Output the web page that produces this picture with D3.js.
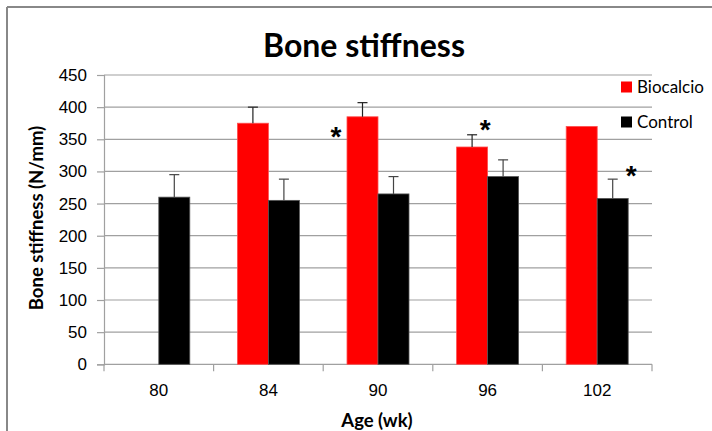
<!DOCTYPE html>
<html><head><meta charset="utf-8">
<script src="https://cdn.jsdelivr.net/npm/d3@7"></script>
<style>body{margin:0;background:#fff}svg{display:block}</style>
</head><body>
<svg id="c" width="712" height="431"></svg>
<script>
const categories = ["80", "84", "90", "96", "102"];
const seriesNames = ["Biocalcio", "Control"];
const biocalcio = [null, 375, 385, 338, 370];
const biocalcioErr = [null, 25, 22, 19, 0];
const control = [260, 255, 265, 292, 258];
const controlErr = [35, 33, 27, 26, 30];
const yTicks = [0, 50, 100, 150, 200, 250, 300, 350, 400, 450];
const stars = [
  {cat: "90", value: 364, offset: -1.36},
  {cat: "96", value: 375, offset: -0.08},
  {cat: "102", value: 304, offset: 1.1}
];
const colors = ["#ff0000", "#000000"];

const svg = d3.select("#c");
// outer border (top and left visible)
svg.append("line").attr("x1",7).attr("x2",712).attr("y1",7).attr("y2",7).attr("stroke","#888").attr("stroke-width",2);
svg.append("line").attr("x1",7).attr("x2",7).attr("y1",7).attr("y2",431).attr("stroke","#888").attr("stroke-width",2);

const L = 104, R = 652, T = 75, B = 364.3;
const x = d3.scaleBand().domain(categories).range([L, R]).paddingInner(0).paddingOuter(0);
const y = d3.scaleLinear().domain([0, 450]).range([B, T]);
const barW = 31;

// gridlines
svg.append("g").selectAll("line").data(yTicks.filter(d => d > 0)).join("line")
  .attr("x1", L).attr("x2", R).attr("y1", d => y(d)).attr("y2", d => y(d))
  .attr("stroke", "#a0a0a0").attr("stroke-width", 1.2);

// y axis
const yAxis = d3.axisLeft(y).tickValues(yTicks).tickSize(7).tickPadding(10);
const gy = svg.append("g").attr("transform", `translate(${L},0)`).call(yAxis);
gy.select(".domain").attr("stroke", "#a0a0a0").attr("stroke-width", 1.2);
gy.selectAll(".tick line").attr("stroke", "#a0a0a0").attr("stroke-width", 1.2);
gy.selectAll(".tick text").attr("font-family", "Liberation Sans, Arial, sans-serif").attr("font-size", 17).attr("fill", "#000");

// x axis
const gx = svg.append("g").attr("transform", `translate(0,${B})`);
gx.append("line").attr("x1", L).attr("x2", R).attr("y1", 0).attr("y2", 0).attr("stroke", "#a0a0a0").attr("stroke-width", 1.2);
const bounds = categories.map(c => x(c)).concat([x(categories[categories.length-1]) + x.bandwidth()]);
gx.selectAll("line.tk").data(bounds).join("line").attr("class","tk")
  .attr("x1", d => d).attr("x2", d => d).attr("y1", 0).attr("y2", 7)
  .attr("stroke", "#a0a0a0").attr("stroke-width", 1.2);
gx.selectAll("text").data(categories).join("text")
  .attr("x", d => x(d) + x.bandwidth() / 2).attr("y", 32)
  .attr("text-anchor", "middle").attr("font-family", "Liberation Sans, Arial, sans-serif")
  .attr("font-size", 17).text(d => d);

// bars
const allSeries = [biocalcio, control];
const allErr = [biocalcioErr, controlErr];
allSeries.forEach((vals, si) => {
  const data = categories.map((c, i) => ({c, v: vals[i], e: allErr[si][i]})).filter(d => d.v != null);
  const g = svg.append("g");
  g.selectAll("rect").data(data).join("rect")
    .attr("x", d => x(d.c) + x.bandwidth() / 2 + (si - 1) * barW)
    .attr("y", d => y(d.v)).attr("width", barW).attr("height", d => B - y(d.v))
    .attr("fill", colors[si]).attr("stroke", si === 0 ? "#ff5050" : "#555").attr("stroke-width", 0.8);
  const eb = data.filter(d => d.e > 0);
  const ec = si === 0 ? "#222" : "#444";
  g.selectAll("line.ev").data(eb).join("line").attr("class","ev")
    .attr("x1", d => x(d.c) + x.bandwidth() / 2 + (si - 0.5) * barW)
    .attr("x2", d => x(d.c) + x.bandwidth() / 2 + (si - 0.5) * barW)
    .attr("y1", d => y(d.v)).attr("y2", d => y(d.v + d.e)).attr("stroke", ec).attr("stroke-width", 1.2);
  g.selectAll("line.ec").data(eb).join("line").attr("class","ec")
    .attr("x1", d => x(d.c) + x.bandwidth() / 2 + (si - 0.5) * barW - 5)
    .attr("x2", d => x(d.c) + x.bandwidth() / 2 + (si - 0.5) * barW + 5)
    .attr("y1", d => y(d.v + d.e)).attr("y2", d => y(d.v + d.e)).attr("stroke", ec).attr("stroke-width", 1.2);
});

// significance stars
svg.append("g").selectAll("text").data(stars).join("text")
  .attr("x", d => x(d.cat) + x.bandwidth() / 2 + d.offset * barW)
  .attr("y", d => y(d.value) + 16)
  .attr("text-anchor", "middle").attr("font-family", "Liberation Sans, Arial, sans-serif")
  .attr("font-weight", "bold").attr("font-size", 28).text("*");

// title
svg.append("text").attr("x", 364).attr("y", 57).attr("text-anchor", "middle")
  .attr("font-family", "Lato, sans-serif").attr("font-weight", "bold").attr("font-size", 32).text("Bone stiffness");

// axis titles
svg.append("text").attr("transform", "translate(43,218) rotate(-90)").attr("text-anchor", "middle")
  .attr("font-family", "Lato, sans-serif").attr("font-weight", "bold").attr("font-size", 18.5).text("Bone stiffness (N/mm)");
svg.append("text").attr("x", 377).attr("y", 427).attr("text-anchor", "middle")
  .attr("font-family", "Lato, sans-serif").attr("font-weight", "bold").attr("font-size", 18.5).text("Age (wk)");

// legend
const lg = svg.append("g");
seriesNames.forEach((n, i) => {
  const cy = 87 + i * 35;
  lg.append("rect").attr("x", 621).attr("y", cy - 5.5).attr("width", 11).attr("height", 11).attr("fill", colors[i]);
  lg.append("text").attr("x", 637).attr("y", cy + 6).attr("font-family", "Lato, sans-serif")
    .attr("font-size", 17).text(n);
});
</script>
</body></html>
